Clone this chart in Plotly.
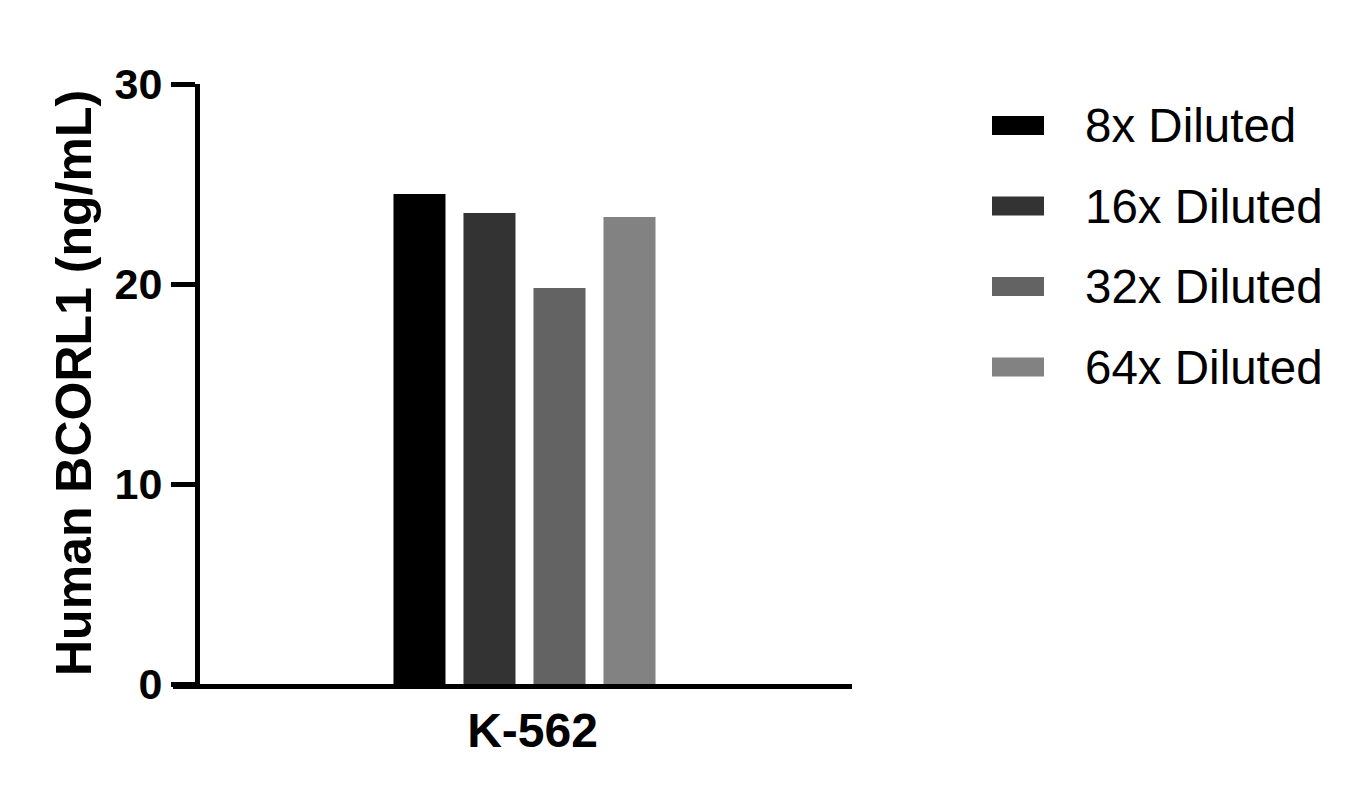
import plotly.graph_objects as go

# the page body has an 8px margin, so the figure is drawn 8px in from the corner
OFF = 8
W, H = 1368 - OFF, 804 - OFF

# data
sample = ["K-562"]
series_names = ["8x Diluted", "16x Diluted", "32x Diluted", "64x Diluted"]
series_values = [24.5, 23.55, 19.8, 23.35]
series_colors = ["#000000", "#333333", "#636363", "#828282"]
y_ticks = [0, 10, 20, 30]


def px(x):
    return (x - OFF) / W


def py(y):
    return 1 - (y - OFF) / H


fig = go.Figure()

for name, val, col in zip(series_names, series_values, series_colors):
    fig.add_trace(go.Bar(x=sample, y=[val], name=name, marker_color=col,
                         marker_line_width=0, showlegend=False))

# legend drawn by hand so swatches are wide like the original
shapes = []
annotations = []
for i, (name, col) in enumerate(zip(series_names, series_colors)):
    yc = 125.5 + i * 80.5
    shapes.append(dict(type="rect", xref="paper", yref="paper",
                       x0=px(992), x1=px(1044), y0=py(yc - 9.5), y1=py(yc + 9.5),
                       fillcolor=col, line_width=0))
    annotations.append(dict(text=name, xref="paper", yref="paper",
                            x=px(1083), y=py(yc), xanchor="left", yanchor="middle",
                            showarrow=False,
                            font=dict(family="Liberation Sans, Arial", size=47.5, color="black")))

# y axis title
annotations.append(dict(text="Human BCORL1 (ng/mL)", xref="paper", yref="paper",
                        x=px(74), y=py(383), xanchor="center", yanchor="middle",
                        textangle=-90, showarrow=False,
                        font=dict(family="Liberation Sans, Arial", size=50,
                                  color="black", weight="bold")))

fig.update_layout(
    width=W, height=H,
    margin=dict(l=0, r=0, t=0, b=0),
    paper_bgcolor="white", plot_bgcolor="white",
    barmode="group", bargap=0.5725, bargroupgap=0.257,
    shapes=shapes, annotations=annotations,
    showlegend=False,
)

# axes
fig.update_xaxes(
    domain=[px(173), px(852)],
    range=[-0.5366, 0.5],
    showline=True, linewidth=5, linecolor="black",
    ticks="", showgrid=False, zeroline=False,
    tickfont=dict(family="Liberation Sans, Arial", size=48, color="black", weight="bold"),
    ticklabelstandoff=0, ticklabelshift=8,
    automargin=False,
)
fig.update_yaxes(
    domain=[py(684), py(84)],
    anchor="free", position=px(197),
    range=[0, 30], tickvals=y_ticks,
    showline=True, linewidth=5, linecolor="black",
    ticks="outside", ticklen=24, tickwidth=5, tickcolor="black",
    showgrid=False, zeroline=False,
    tickfont=dict(family="Liberation Sans, Arial", size=43, color="black", weight="bold"),
    ticklabelstandoff=0,
    automargin=False,
)

fig.write_html("out.html")
